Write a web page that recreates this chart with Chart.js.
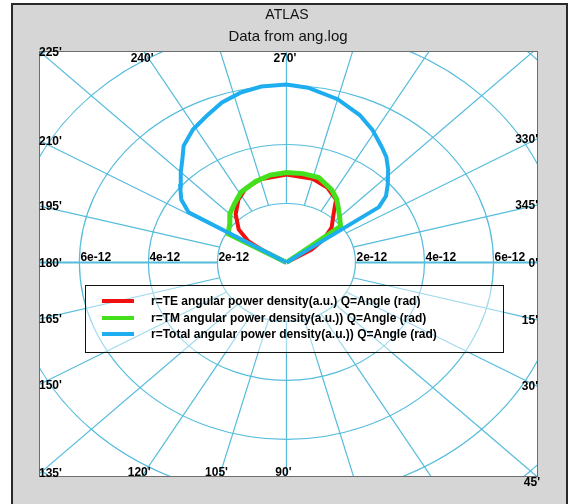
<!DOCTYPE html>
<html>
<head>
<meta charset="utf-8">
<script src="https://cdn.jsdelivr.net/npm/chart.js@4.4.0/dist/chart.umd.min.js"></script>
<style>
  html, body { margin: 0; padding: 0; background: #fff; }
  #wrap { position: relative; width: 572px; height: 504px; }
</style>
</head>
<body>
<div id="wrap"><canvas id="chart" width="572" height="504"></canvas></div>
<script>
// radius in units of 1e-12 (a.u.), angle in degrees (0 = right, 270 = top)
const teAngle = [211, 211, 213, 219, 228, 237, 245, 255, 270, 285, 295, 304, 310, 318, 324, 329, 329];
const teR     = [0, 0.85, 1.31, 1.78, 2.2, 2.55, 2.78, 2.92, 2.98, 2.94, 2.8, 2.57, 2.12, 1.76, 1.33, 0.85, 0];

const tmAngle = [210, 210, 218, 225, 233, 241, 252, 261, 270, 279, 288, 298, 304, 310, 316, 322, 322];
const tmR     = [0, 1.95, 2.09, 2.32, 2.5, 2.72, 2.89, 3.0, 3.05, 3.05, 3.03, 2.79, 2.6, 2.35, 2.15, 1.99, 0];

const totalAngle = [211, 211, 215, 220, 225, 229, 233, 239, 245, 251, 257, 263, 270, 276, 285, 293, 299, 305, 309, 313, 318, 322, 325, 325];
const totalR     = [0, 3.31, 3.72, 4.02, 4.33, 4.6, 4.95, 5.26, 5.48, 5.74, 5.91, 6.01, 6.03, 5.96, 5.73, 5.43, 5.14, 4.8, 4.6, 4.32, 3.95, 3.66, 3.27, 0];

const ringValues = [2, 4, 6, 8, 10];
const ringLabels = ['2e-12', '4e-12', '6e-12'];
const spokeAngles = [0, 15, 30, 45, 60, 75, 90, 105, 120, 135, 150, 165, 180, 195, 210, 225, 240, 255, 270, 285, 300, 315, 330, 345];
const angleLabels = [0, 15, 30, 45, 90, 105, 120, 135, 150, 165, 180, 195, 210, 225, 240, 270, 330, 345];

const seriesNames = [
    'r=TE angular power density(a.u.) Q=Angle (rad)',
    'r=TM angular power density(a.u.)) Q=Angle (rad)',
    'r=Total angular power density(a.u.)) Q=Angle (rad)'
];
const seriesColors = ['#f01010', '#44e01c', '#1eaef0'];

const gridColor = '#55bcdc';
const X_MIN = -7.17, X_MAX = 7.26, Y_MIN = -7.17, Y_MAX = 7.24;

function toXY(angles, radii) {
    return angles.map((a, i) => {
        const t = a * Math.PI / 180;
        return { x: radii[i] * Math.cos(t), y: radii[i] * Math.sin(t) };
    });
}

const polarGrid = {
    id: 'polarGrid',
    beforeDraw(chart) {
        const ctx = chart.ctx;
        const a = chart.chartArea;
        ctx.save();
        ctx.fillStyle = '#fff';
        ctx.fillRect(0, 0, chart.width, chart.height);
        // outer panel
        ctx.fillStyle = '#d6d6d6';
        ctx.fillRect(12, 4, 555, 502);
        ctx.strokeStyle = '#2a2a2a';
        ctx.lineWidth = 2;
        ctx.strokeRect(12, 4, 555, 502);
        ctx.fillStyle = '#fff';
        ctx.fillRect(a.left, a.top, a.right - a.left, a.bottom - a.top);

        // titles
        ctx.fillStyle = '#111';
        ctx.textAlign = 'center';
        ctx.textBaseline = 'middle';
        ctx.font = '14px "Liberation Sans", Arial, sans-serif';
        ctx.fillText('ATLAS', 287, 15);
        ctx.font = '15px "Liberation Sans", Arial, sans-serif';
        ctx.fillText('Data from ang.log', 288, 37);
        ctx.restore();
    },
    beforeDatasetsDraw(chart) {
        const ctx = chart.ctx;
        const a = chart.chartArea;
        const xs = chart.scales.x, ys = chart.scales.y;
        const cx = xs.getPixelForValue(0), cy = ys.getPixelForValue(0);
        ctx.save();
        ctx.beginPath();
        ctx.rect(a.left, a.top, a.right - a.left, a.bottom - a.top);
        ctx.clip();
        ctx.strokeStyle = gridColor;
        ctx.lineWidth = 1.2;
        ringValues.forEach(r => {
            const rx = Math.abs(xs.getPixelForValue(r) - cx);
            const ry = Math.abs(ys.getPixelForValue(r) - cy);
            ctx.beginPath();
            ctx.ellipse(cx, cy, rx, ry, 0, 0, Math.PI * 2);
            ctx.stroke();
        });
        // spokes start at the innermost ring
        const r0 = ringValues[0];
        spokeAngles.forEach(deg => {
            const t = deg * Math.PI / 180;
            ctx.beginPath();
            ctx.moveTo(xs.getPixelForValue(r0 * Math.cos(t)), ys.getPixelForValue(r0 * Math.sin(t)));
            ctx.lineTo(xs.getPixelForValue(20 * Math.cos(t)), ys.getPixelForValue(20 * Math.sin(t)));
            ctx.lineWidth = (deg % 180 === 0) ? 2 : 1.2;
            ctx.stroke();
        });
        ctx.restore();
    },
    afterDraw(chart) {
        const ctx = chart.ctx;
        const a = chart.chartArea;
        const xs = chart.scales.x, ys = chart.scales.y;
        const cx = xs.getPixelForValue(0), cy = ys.getPixelForValue(0);
        ctx.save();
        ctx.strokeStyle = '#6e6e6e';
        ctx.lineWidth = 1;
        ctx.strokeRect(a.left + 0.5, a.top + 0.5, a.right - a.left, a.bottom - a.top);

        ctx.fillStyle = '#000';
        ctx.font = 'bold 12px "Liberation Sans", Arial, sans-serif';

        // radial tick labels on the horizontal axis, both sides
        ctx.textAlign = 'left';
        ctx.textBaseline = 'alphabetic';
        ringLabels.forEach((lab, i) => {
            const r = ringValues[i];
            ctx.fillText(lab, xs.getPixelForValue(r) + 1, cy - 1);
            ctx.fillText(lab, xs.getPixelForValue(-r) + 1, cy - 1);
        });

        // angle labels where the spokes leave the plot
        angleLabels.forEach(deg => {
            const t = deg * Math.PI / 180;
            const dx = xs.getPixelForValue(Math.cos(t)) - cx;
            const dy = ys.getPixelForValue(Math.sin(t)) - cy;
            const tx = Math.abs(dx) < 1e-9 ? Infinity : ((dx > 0 ? a.right : a.left) - cx) / dx;
            const ty = Math.abs(dy) < 1e-9 ? Infinity : ((dy > 0 ? a.bottom : a.top) - cy) / dy;
            const tt = Math.min(tx, ty);
            const hx = cx + dx * tt, hy = cy + dy * tt;
            const txt = deg + "'";
            ctx.textBaseline = 'middle';
            if (Math.abs(tx - ty) / tt < 0.02) {
                if (dx < 0) {
                    ctx.textAlign = 'left';
                    ctx.fillText(txt, a.left, hy + (dy < 0 ? 2 : 0));
                } else {
                    ctx.textAlign = 'right';
                    ctx.fillText(txt, a.right + 3, hy + 7);
                }
            } else if (tx < ty) {
                ctx.textAlign = dx < 0 ? 'left' : 'right';
                ctx.fillText(txt, dx < 0 ? a.left : a.right + 1, hy + 1);
            } else {
                ctx.textAlign = 'center';
                if (dy < 0) ctx.fillText(txt, hx - 1.5, a.top + 8);
                else ctx.fillText(txt, hx - 3, a.bottom - 3);
            }
        });

        // legend
        ctx.fillStyle = 'rgba(255,255,255,0.45)';
        ctx.fillRect(85.5, 285.5, 418, 67);
        ctx.strokeStyle = '#111';
        ctx.lineWidth = 1;
        ctx.strokeRect(85.5, 285.5, 418, 67);
        ctx.font = 'bold 12px "Liberation Sans", Arial, sans-serif';
        ctx.textAlign = 'left';
        ctx.textBaseline = 'middle';
        const rows = [301, 318, 334];
        seriesNames.forEach((n, i) => {
            ctx.strokeStyle = seriesColors[i];
            ctx.lineWidth = 4;
            ctx.beginPath();
            ctx.moveTo(102, rows[i]);
            ctx.lineTo(134, rows[i]);
            ctx.stroke();
            ctx.fillStyle = '#000';
            ctx.fillText(n, 151, rows[i] + 1);
        });
        ctx.restore();
    }
};

new Chart(document.getElementById('chart').getContext('2d'), {
    type: 'scatter',
    data: {
        datasets: [
            { label: seriesNames[0], data: toXY(teAngle, teR), borderColor: seriesColors[0], borderWidth: 4, showLine: true, pointRadius: 0, order: 2 },
            { label: seriesNames[1], data: toXY(tmAngle, tmR), borderColor: seriesColors[1], borderWidth: 5, showLine: true, pointRadius: 0, order: 1 },
            { label: seriesNames[2], data: toXY(totalAngle, totalR), borderColor: seriesColors[2], borderWidth: 4, showLine: true, pointRadius: 0, order: 0 }
        ]
    },
    options: {
        responsive: false,
        animation: false,
        layout: { padding: { left: 39, top: 51, right: 35, bottom: 28 } },
        plugins: { legend: { display: false }, tooltip: { enabled: false }, title: { display: false } },
        scales: {
            x: { type: 'linear', min: X_MIN, max: X_MAX, display: false },
            y: { type: 'linear', min: Y_MIN, max: Y_MAX, reverse: true, display: false }
        }
    },
    plugins: [polarGrid]
});
</script>
</body>
</html>
